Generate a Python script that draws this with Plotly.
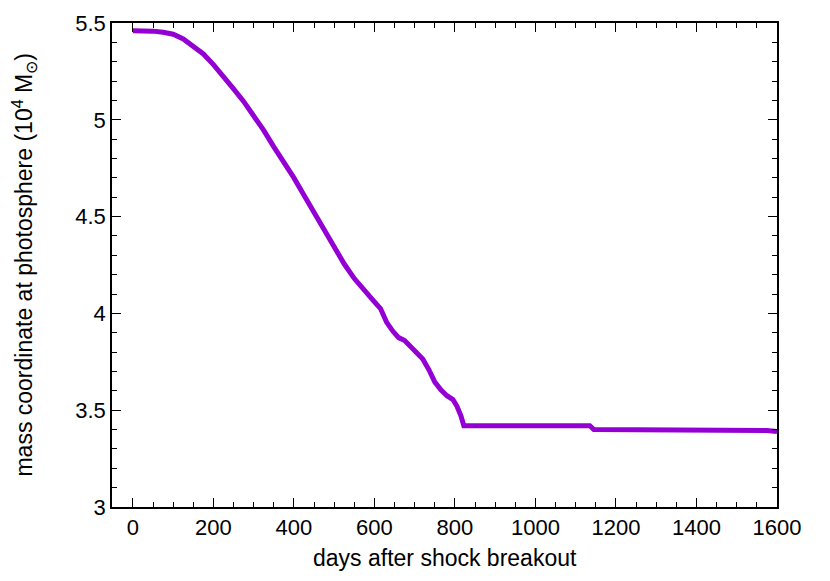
import plotly.graph_objects as go

# days after shock breakout
days = [0, 25, 50, 75, 100, 125, 150, 175, 200, 225, 250, 275, 300, 325, 350,
        375, 400, 425, 450, 475, 500, 525, 550, 575, 590, 600, 615, 630, 645,
        660, 675, 690, 705, 720, 735, 750, 765, 780, 795, 805, 815, 822,
        900, 1000, 1100, 1135, 1145, 1200, 1300, 1400, 1500, 1555, 1575, 1600]
# mass coordinate at photosphere (1e4 Msun)
mass = [5.46, 5.46, 5.458, 5.452, 5.442, 5.418, 5.378, 5.34, 5.285, 5.225,
        5.16, 5.095, 5.025, 4.945, 4.86, 4.785, 4.70, 4.61, 4.52, 4.425,
        4.345, 4.255, 4.18, 4.115, 4.085, 4.06, 4.025, 3.955, 3.91, 3.875,
        3.86, 3.83, 3.80, 3.765, 3.71, 3.645, 3.605, 3.575, 3.555, 3.52,
        3.47, 3.42, 3.42, 3.42, 3.42, 3.42, 3.40, 3.40, 3.40, 3.40, 3.40,
        3.40, 3.395, 3.39]

font = dict(family='Liberation Sans', size=22, color='black')
title_font = dict(family='Liberation Sans', size=23, color='black')

fig = go.Figure()
fig.add_trace(go.Scatter(
    x=days, y=mass, mode='lines',
    line=dict(color='#9400D3', width=5),
    showlegend=False))

axis_style = dict(
    showline=True, linecolor='black', linewidth=1.5,
    mirror='ticks', ticks='inside', ticklen=9, tickwidth=1, tickcolor='black',
    showgrid=False, zeroline=False, automargin=False,
    tickfont=font,
)

fig.update_xaxes(
    range=[-52, 1600], tick0=0, dtick=200,
    minor=dict(dtick=50, ticks='inside', ticklen=5, tickcolor='black'),
    **axis_style)
fig.update_yaxes(
    range=[3, 5.5], tick0=3, dtick=0.5,
    minor=dict(dtick=0.1, ticks='inside', ticklen=5, tickcolor='black'),
    **axis_style)

# axis titles as annotations so they can sit where the reference puts them
fig.add_annotation(
    text='days after shock breakout', xref='paper', yref='paper',
    x=0.5, y=-0.105, xanchor='center', yanchor='middle',
    showarrow=False, font=title_font)
fig.add_annotation(
    text='mass coordinate at photosphere (10<sup>4</sup> M<sub>⊙</sub>)',
    xref='paper', yref='paper', x=-0.133, y=0.5, textangle=-90,
    xanchor='center', yanchor='middle', showarrow=False, font=title_font)

fig.update_layout(
    width=814, height=565,
    paper_bgcolor='white', plot_bgcolor='white',
    font=font,
    margin=dict(l=104, r=45, t=15, b=66),
)

fig.write_html('out.html')
